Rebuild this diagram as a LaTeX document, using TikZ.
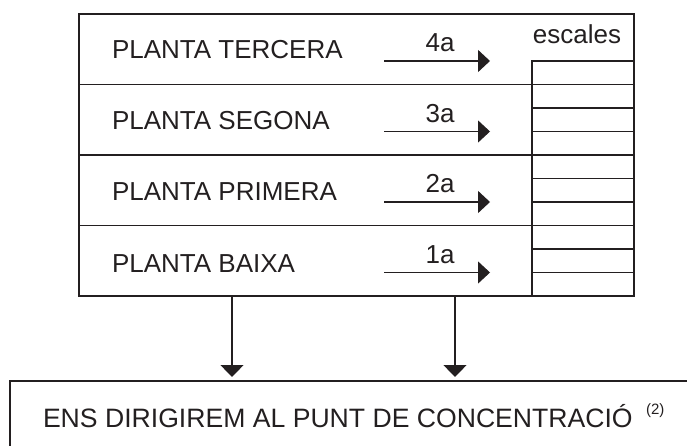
\documentclass[tikz,border=0pt]{standalone}
\usepackage{fontspec}
\setmainfont{Liberation Sans}
\usetikzlibrary{arrows.meta}
\definecolor{ink}{HTML}{231F20}
\begin{document}
\begin{tikzpicture}[x=1pt,y=-1pt,
  box/.style={draw=ink, line width=1.3pt, inner sep=0pt, outer sep=0pt, rectangle},
  area/.style={inner sep=0pt, outer sep=0pt, rectangle},
  rule/.style={draw=ink, line width=1.3pt},
  lbl/.style={text=ink, font=\fontsize{26}{30}\selectfont, inner sep=0pt, outer sep=0pt},
  sup/.style={text=ink, font=\fontsize{15}{18}\selectfont, inner sep=0pt, outer sep=0pt},
  harrow/.style={draw=ink, line width=1.3pt, -{Triangle[length=12pt,width=22pt]}},
  varrow/.style={draw=ink, line width=1.3pt, -{Triangle[length=12pt,width=23pt]}, shorten >=4pt}]
\useasboundingbox (0,0) rectangle (687,446);
\clip (0,0) rectangle (687,446);
% building
\node[box, minimum width=555pt, minimum height=282pt] (building) at (356.5,155) {};
% floors (areas) and dividers
\foreach \n/\yc in {4/49.25, 3/119.75, 2/190.25, 1/260.75}{
  \node[area, minimum width=453pt, minimum height=70.5pt] (floor\n) at (305.5,\yc) {};
}
\foreach \n in {4,3,2}{
  \draw[rule] (floor\n.south west) -- (floor\n.south east);
}
% stairs
\node[box, minimum width=102pt, minimum height=235pt] (stairs) at (583,178.5) {};
\foreach \k in {1,...,9}{
  \coordinate (sl\k) at (532,{61+23.5*\k});
  \coordinate (sr\k) at (634,{61+23.5*\k});
  \draw[rule] (sl\k) -- (sr\k);
}
\node[lbl, anchor=base] (escales) at (577,44) {escales};
% floor names
\node[lbl, anchor=base west] (n4) at (112,59) {PLANTA TERCERA};
\node[lbl, anchor=base west] (n3) at (112,130) {PLANTA SEGONA};
\node[lbl, anchor=base west] (n2) at (112,201) {PLANTA PRIMERA};
\node[lbl, anchor=base west] (n1) at (112,272) {PLANTA BAIXA};
% horizontal arrows
\foreach \n/\ya/\lab in {4/61/4a, 3/131.5/3a, 2/202/2a, 1/272.5/1a}{
  \coordinate (a\n s) at (384,\ya);
  \coordinate (a\n e) at (490,\ya);
  \draw[harrow] (a\n s) -- (a\n e);
  \node[lbl, anchor=base] (l\n) at (440,{\ya-9}) {\lab};
}
% destination box
\node[box, minimum width=710pt, minimum height=109pt] (dest) at (365,435.5) {};
\node[lbl, font=\fontsize{26.6}{30}\selectfont, anchor=base west] (desttext) at (43,427) {ENS DIRIGIREM AL PUNT DE CONCENTRACIÓ};
\node[sup, anchor=base west] (note) at (646,414) {(2)};
% down arrows
\coordinate (d1s) at (232,296);
\coordinate (d1e) at (232,381);
\coordinate (d2s) at (455,296);
\coordinate (d2e) at (455,381);
\draw[varrow] (d1s) -- (d1e);
\draw[varrow] (d2s) -- (d2e);
\end{tikzpicture}
\end{document}
